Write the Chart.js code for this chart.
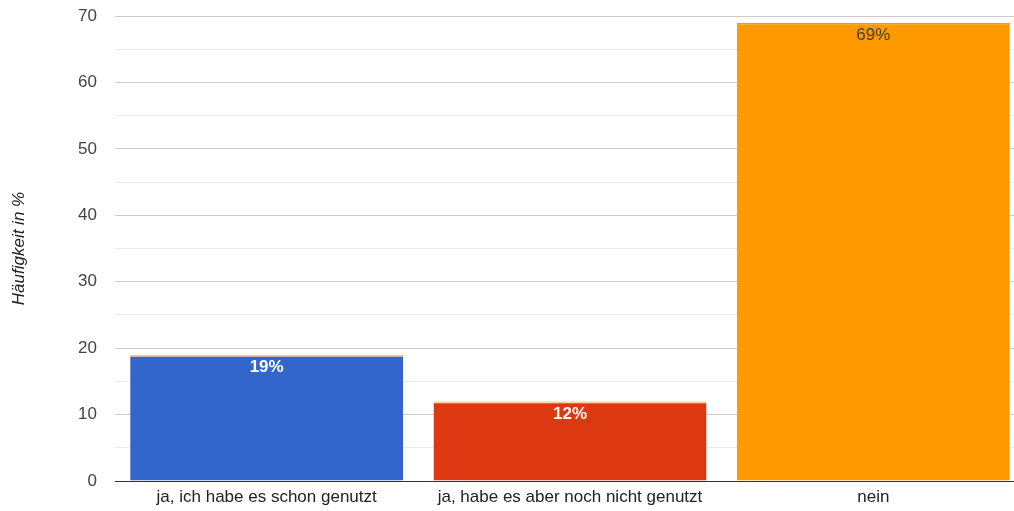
<!DOCTYPE html>
<html>
<head>
<meta charset="utf-8">
<script src="https://cdn.jsdelivr.net/npm/chart.js@4.4.0/dist/chart.umd.min.js"></script>
<style>
    html, body { margin: 0; padding: 0; background: #fff; overflow: hidden; }
    #wrap { width: 1025px; height: 511px; }
</style>
</head>
<body>
<div id="wrap"><canvas id="barChart"></canvas></div>
<script>
const categories = ["ja, ich habe es schon genutzt", "ja, habe es aber noch nicht genutzt", "nein"];
const values = [19, 12, 69];
const valueLabels = ["19%", "12%", "69%"];
const barColors = ["#3366cc", "#dc3912", "#ff9900"];
const labelColors = ["#ffffff", "#ffffff", "#404040"];
const labelBold = [true, true, false];
const yTicks = [0, 10, 20, 30, 40, 50, 60, 70];

const FONT = "'Liberation Sans', Arial, sans-serif";

// Beschriftungen oben in den Balken
const barLabels = {
    id: "barLabels",
    afterDatasetsDraw(chart) {
        const ctx = chart.ctx;
        const meta = chart.getDatasetMeta(0);
        ctx.save();
        ctx.textAlign = "center";
        ctx.textBaseline = "middle";
        meta.data.forEach((bar, i) => {
            ctx.font = (labelBold[i] ? "bold " : "") + "17px " + FONT;
            ctx.fillStyle = labelColors[i];
            ctx.fillText(valueLabels[i], bar.x, bar.y + 13);
        });
        ctx.restore();
    },
};

new Chart(document.getElementById("barChart").getContext("2d"), {
    type: "bar",
    data: {
        labels: categories,
        datasets: [
            {
                data: values,
                backgroundColor: barColors,
                borderColor: ["rgba(255,170,80,0.7)", "rgba(255,200,120,0.8)", "#ff9900"],
                borderWidth: { top: 2, left: 0, right: 0, bottom: 0 },
                borderSkipped: false,
                categoryPercentage: 1,
                barPercentage: 0.9,
            },
        ],
    },
    options: {
        responsive: true,
        maintainAspectRatio: false,
        animation: false,
        layout: { padding: { top: 16, right: 0, bottom: 0, left: 0 } },
        plugins: {
            legend: { display: false },
            tooltip: { enabled: false },
        },
        scales: {
            x: {
                grid: { display: false },
                border: { display: false },
                ticks: { color: "#222", font: { family: FONT, size: 17 }, padding: -2, maxRotation: 0 },
                afterFit(scale) { scale.height = 30; },
            },
            y: {
                min: 0,
                max: 70,
                ticks: {
                    stepSize: 5,
                    color: "#444",
                    font: { family: FONT, size: 17 },
                    padding: 18,
                    callback: (v) => (yTicks.includes(v) ? v : ""),
                },
                grid: {
                    drawTicks: false,
                    color: (c) => (c.tick.value === 0 ? "#333" : c.tick.value % 10 === 0 ? "#cccccc" : "#ebebeb"),
                    lineWidth: 1,
                },
                border: { display: false },
                title: {
                    display: true,
                    text: "Häufigkeit in %",
                    color: "#222",
                    font: { family: FONT, size: 17, style: "italic" },
                    padding: { top: 9, bottom: 0 },
                },
                afterFit(scale) {
                    scale.width = 115;
                    scale.paddingTop = 0;
                    scale.paddingBottom = 0;
                },
            },
        },
    },
    plugins: [barLabels],
});
</script>
</body>
</html>
